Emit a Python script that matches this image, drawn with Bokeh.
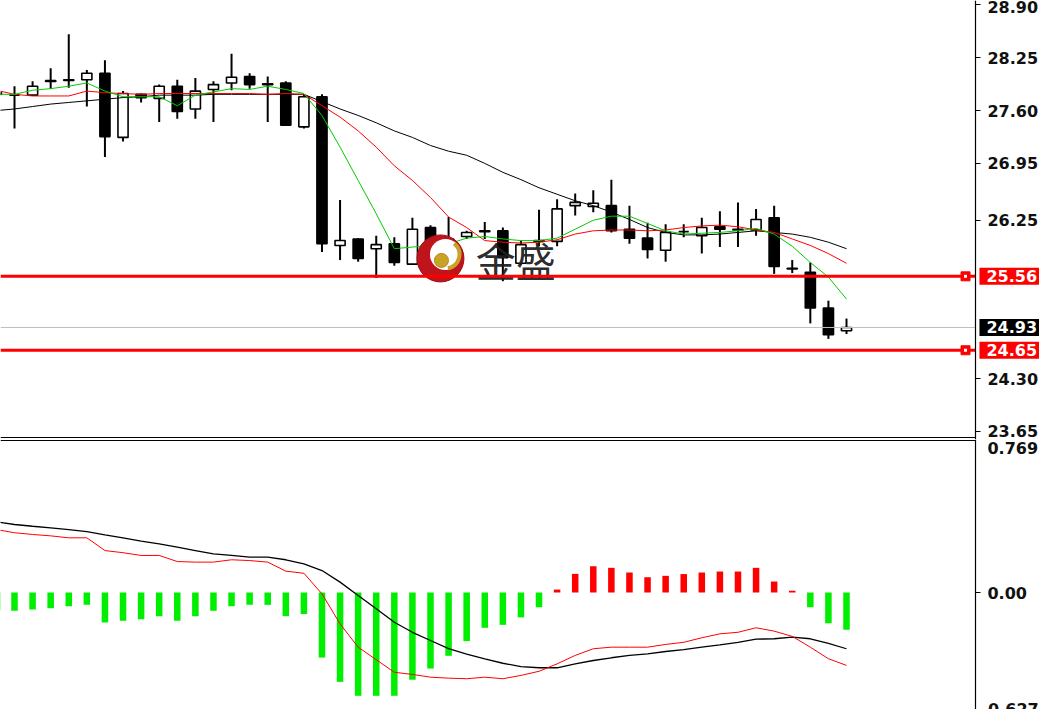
from bokeh.plotting import figure
from bokeh.models import Range1d, FixedTicker, ColumnDataSource, PrintfTickFormatter
from bokeh.layouts import column
from bokeh.embed import file_html
from bokeh.resources import INLINE
from bokeh.core.properties import value

# ---------------- data ----------------
candle_index = list(range(-1, 47))
opens = [27.80, 27.79, 27.79, 27.96, 27.97, 27.98, 28.06, 27.27, 27.80, 27.75, 27.90, 27.62,
         27.86, 27.94, 28.02, 27.93, 27.94, 27.40, 27.77, 25.94, 26.02, 25.90, 25.96, 25.71,
         26.16, 26.02, 26.05, 26.12, 26.12, 25.72, 25.99, 25.99, 26.43, 26.42, 26.43, 26.14,
         26.03, 25.88, 26.11, 26.06, 26.17, 26.14, 26.13, 26.28, 25.66, 25.61, 25.17, 24.89]
highs = [27.86, 27.90, 27.96, 28.12, 28.54, 28.10, 28.22, 27.84, 27.81, 27.92, 27.98, 28.00,
         27.96, 28.30, 28.06, 28.02, 27.96, 27.80, 27.80, 26.50, 26.03, 26.06, 26.04, 26.28,
         26.19, 26.29, 26.12, 26.23, 26.16, 26.00, 26.38, 26.51, 26.58, 26.62, 26.75, 26.43,
         26.22, 26.20, 26.20, 26.28, 26.36, 26.47, 26.39, 26.43, 25.76, 25.73, 25.26, 25.04]
lows = [27.74, 27.38, 27.78, 27.87, 27.88, 27.65, 27.03, 27.22, 27.70, 27.46, 27.50, 27.50,
        27.46, 27.85, 27.87, 27.46, 27.42, 27.38, 25.86, 25.76, 25.74, 25.54, 25.69, 25.70,
        25.85, 25.90, 26.02, 26.02, 25.50, 25.70, 25.93, 25.93, 26.31, 26.35, 26.10, 25.96,
        25.78, 25.74, 26.04, 25.84, 25.92, 25.92, 26.06, 25.59, 25.60, 24.98, 24.79, 24.85]
closes = [27.82, 27.79, 27.90, 27.97, 27.98, 28.06, 27.28, 27.81, 27.76, 27.90, 27.59, 27.84,
          27.92, 28.01, 27.92, 27.92, 27.42, 27.77, 25.96, 26.00, 25.78, 25.95, 25.73, 26.14,
          25.92, 25.95, 26.10, 26.11, 25.79, 25.95, 26.00, 26.39, 26.47, 26.46, 26.12, 26.03,
          25.89, 26.10, 26.11, 26.16, 26.14, 26.13, 26.26, 25.68, 25.65, 25.17, 24.84, 24.93]

ma_green = [27.80, 27.80, 27.85, 27.87, 27.90, 27.94, 27.84, 27.77, 27.77, 27.77, 27.66, 27.79,
            27.83, 27.87, 27.86, 27.90, 27.86, 27.81, 27.54, 27.15, 26.74, 26.33, 25.90, 25.92,
            25.94, 25.96, 26.03, 26.05, 26.02, 26.00, 26.00, 26.03, 26.14, 26.25, 26.30, 26.30,
            26.21, 26.12, 26.08, 26.09, 26.10, 26.12, 26.15, 26.08, 25.93, 25.73, 25.55, 25.28]
ma_red = [27.85, 27.80, 27.78, 27.78, 27.78, 27.84, 27.82, 27.81, 27.80, 27.81, 27.81, 27.81,
          27.81, 27.81, 27.81, 27.80, 27.81, 27.80, 27.66, 27.52, 27.35, 27.15, 26.92, 26.74,
          26.53, 26.29, 26.16, 26.00, 25.98, 25.97, 25.98, 26.01, 26.08, 26.12, 26.13, 26.13,
          26.12, 26.13, 26.16, 26.18, 26.19, 26.17, 26.13, 26.10, 26.02, 25.94, 25.84, 25.72]
ma_black = [27.60, 27.62, 27.65, 27.68, 27.70, 27.72, 27.74, 27.76, 27.77, 27.79, 27.79, 27.79,
            27.80, 27.80, 27.80, 27.80, 27.80, 27.80, 27.71, 27.62, 27.54, 27.45, 27.35, 27.27,
            27.17, 27.10, 27.05, 26.95, 26.84, 26.75, 26.65, 26.57, 26.49, 26.43, 26.35, 26.26,
            26.16, 26.10, 26.07, 26.07, 26.08, 26.10, 26.12, 26.10, 26.08, 26.04, 25.98, 25.90]

macd_hist = [-0.090, -0.093, -0.087, -0.080, -0.070, -0.063, -0.153, -0.144, -0.136, -0.121,
             -0.144, -0.121, -0.093, -0.070, -0.063, -0.063, -0.121, -0.110, -0.332, -0.456,
             -0.527, -0.527, -0.527, -0.445, -0.388, -0.323, -0.248, -0.180, -0.165, -0.127,
             -0.075, 0.015, 0.095, 0.134, 0.126, 0.102, 0.078, 0.085, 0.094, 0.102, 0.107,
             0.107, 0.126, 0.056, 0.009, -0.075, -0.157, -0.190]
macd_black = [0.360, 0.347, 0.338, 0.330, 0.321, 0.311, 0.294, 0.279, 0.262, 0.248, 0.231, 0.214,
              0.197, 0.189, 0.180, 0.180, 0.167, 0.146, 0.112, 0.053, -0.015, -0.083, -0.152,
              -0.203, -0.245, -0.286, -0.314, -0.339, -0.361, -0.378, -0.384, -0.384, -0.364,
              -0.347, -0.333, -0.321, -0.313, -0.301, -0.291, -0.279, -0.267, -0.254, -0.238,
              -0.236, -0.228, -0.236, -0.259, -0.287]
macd_red = [0.321, 0.305, 0.296, 0.289, 0.279, 0.279, 0.214, 0.203, 0.189, 0.189, 0.158, 0.155,
            0.155, 0.167, 0.163, 0.155, 0.109, 0.098, -0.007, -0.160, -0.279, -0.343, -0.407,
            -0.418, -0.432, -0.437, -0.440, -0.432, -0.440, -0.423, -0.402, -0.364, -0.321,
            -0.287, -0.279, -0.279, -0.279, -0.265, -0.254, -0.231, -0.211, -0.203, -0.180,
            -0.197, -0.224, -0.279, -0.338, -0.372]

price_ticks = [28.90, 28.25, 27.60, 26.95, 26.25, 24.30, 23.65]
macd_ticks = [0.0]
macd_scale_labels = [0.769, -0.627]
level_lines = [25.56, 24.65]
last_price = 24.93
watermark_text = "金盛"

# ---------------- layout / style ----------------
PX_X = 1 / 18.087          # one screen pixel in candle-index units
PX_Y = 0.012309            # one screen pixel in price units (top panel)
PX_M = 1 / 196.0           # one screen pixel in MACD units
X_START = -0.774
X_AXIS = 53.13              # where the price scale sits
X_END = X_START + 1039 * PX_X
PRICE_RANGE = (28.955 - 439 * PX_Y, 28.955)
MACD_RANGE = (-117 * PX_M, 153 * PX_M)
AXIS_FONT = "DejaVu Sans"
LABEL_SIZE = "16px"
LABEL_COLOR = "#111111"


def style_right_axis(ax, ticks):
    ax.fixed_location = X_AXIS
    ax.ticker = FixedTicker(ticks=ticks)
    ax.formatter = PrintfTickFormatter(format="%.2f")
    ax.major_tick_out = 5
    ax.major_tick_in = 0
    ax.minor_tick_out = 0
    ax.minor_tick_in = 0
    ax.major_label_standoff = 7
    ax.major_label_text_font = AXIS_FONT
    ax.major_label_text_font_size = LABEL_SIZE
    ax.major_label_text_font_style = "bold"
    ax.major_label_text_color = LABEL_COLOR
    ax.axis_line_color = "black"
    ax.axis_line_width = 1.2
    ax.major_tick_line_color = "black"


def make_fig(height, yr):
    f = figure(frame_width=1039, frame_height=height, x_range=x_range, y_range=Range1d(*yr),
               output_backend="svg", toolbar_location=None, y_axis_location="right",
               x_axis_location=None, min_border_left=0, min_border_right=0,
               min_border_top=0, min_border_bottom=0, outline_line_color=None,
               background_fill_color="white", border_fill_color="white")
    f.xgrid.visible = False
    f.ygrid.visible = False
    return f


x_range = Range1d(X_START, X_END)

# ================= price panel =================
top = make_fig(439, PRICE_RANGE)
style_right_axis(top.yaxis[0], price_ticks)

src = ColumnDataSource(dict(
    x=candle_index, h=highs, l=lows,
    top=[max(o, c) for o, c in zip(opens, closes)],
    bottom=[min(o, c) for o, c in zip(opens, closes)],
    fill=["white" if c >= o else "black" for o, c in zip(opens, closes)],
))
top.segment(x0="x", y0="l", x1="x", y1="h", source=src, line_color="black", line_width=2)
top.vbar(x="x", width=0.56, top="top", bottom="bottom", fill_color="fill",
         line_color="black", line_width=1.6, source=src)

top.line(candle_index, ma_black, line_color="black", line_width=1)
top.line(candle_index, ma_red, line_color="#ff0000", line_width=1)
top.line(candle_index, ma_green, line_color="#00cc00", line_width=1)

# watermark logo (decoration)
LOGO_X, LOGO_Y = 23.55, 25.78
top.scatter([LOGO_X], [LOGO_Y], marker="circle", size=47, fill_color="#c0141c", line_color="#a01015")
top.scatter([LOGO_X + 5 * PX_X], [LOGO_Y + 4 * PX_Y], marker="circle", size=31,
            fill_color="white", line_color=None)
top.arc([LOGO_X + 5 * PX_X], [LOGO_Y + 4 * PX_Y], radius=14, radius_units="screen",
        start_angle=-1.4, end_angle=0.9, line_color="#c9a227", line_width=4)
top.scatter([LOGO_X + 1 * PX_X], [LOGO_Y - 2 * PX_Y], marker="circle", size=14,
            fill_color="#c9a227", line_color="#b08a1a")
top.text(x=[25.50], y=[25.755], text=[watermark_text], text_font=value("Noto Sans CJK SC"),
         text_font_size="40px", text_color="#202020", text_alpha=0.95,
         text_baseline="middle", text_align="left")

# horizontal levels, stopping at the price scale
top.segment(x0=[X_START], y0=[last_price], x1=[X_AXIS], y1=[last_price],
            line_color="#c0c0c0", line_width=1)
top.segment(x0=[X_START] * 2, y0=level_lines, x1=[X_AXIS] * 2, y1=level_lines,
            line_color="#ff0000", line_width=3)
top.scatter([X_AXIS - 0.55] * 2, level_lines, marker="square", size=9,
            fill_color="#ff0000", line_color="#ff0000")
top.scatter([X_AXIS - 0.55] * 2, level_lines, marker="square", size=3,
            fill_color="white", line_color=None)

# value boxes on the price scale
box_vals = [level_lines[0], last_price, level_lines[1]]
box_cols = ["#ff0000", "#000000", "#ff0000"]
top.quad(left=[X_AXIS + 4 * PX_X] * 3, right=[X_END] * 3,
         top=[v + 8.5 * PX_Y for v in box_vals], bottom=[v - 8.5 * PX_Y for v in box_vals],
         fill_color=box_cols, line_color=None)
top.text(x=[X_AXIS + 11 * PX_X] * 3, y=box_vals, text=[f"{v:.2f}" for v in box_vals],
         text_font=value(AXIS_FONT), text_font_size=LABEL_SIZE, text_font_style="bold",
         text_color="white", text_baseline="middle", text_align="left")

# panel separator (bottom frame line of the price window)
top.segment(x0=[X_START], y0=[PRICE_RANGE[0] + 2 * PX_Y], x1=[X_AXIS], y1=[PRICE_RANGE[0] + 2 * PX_Y],
            line_color="black", line_width=1.2)

# ================= MACD panel =================
bot = make_fig(270, MACD_RANGE)
style_right_axis(bot.yaxis[0], macd_ticks)
bot.yaxis[0].formatter = PrintfTickFormatter(format="%.2f")

bot.vbar(x=candle_index, top=macd_hist, bottom=0, width=0.36,
         fill_color=["#ff0000" if v > 0 else "#00ee00" for v in macd_hist], line_color=None)
bot.line(candle_index, macd_black, line_color="black", line_width=1.3)
bot.line(candle_index, macd_red, line_color="#ff0000", line_width=1)

bot.segment(x0=[X_START], y0=[MACD_RANGE[1] - 1 * PX_M], x1=[X_AXIS], y1=[MACD_RANGE[1] - 1 * PX_M],
            line_color="black", line_width=1.2)
bot.text(x=[X_AXIS + 12 * PX_X], y=[macd_scale_labels[0]], text=[f"{macd_scale_labels[0]:.3f}"],
         text_font=value(AXIS_FONT), text_font_size=LABEL_SIZE, text_font_style="bold",
         text_color=LABEL_COLOR, text_baseline="top", text_align="left")
bot.text(x=[X_AXIS + 6 * PX_X], y=[macd_scale_labels[1]], text=[f"{macd_scale_labels[1]:.3f}"],
         text_font=value(AXIS_FONT), text_font_size=LABEL_SIZE, text_font_style="bold",
         text_color=LABEL_COLOR, text_baseline="bottom", text_align="left")

layout = column(top, bot, spacing=0)
open("out.html", "w").write(file_html(layout, INLINE))
